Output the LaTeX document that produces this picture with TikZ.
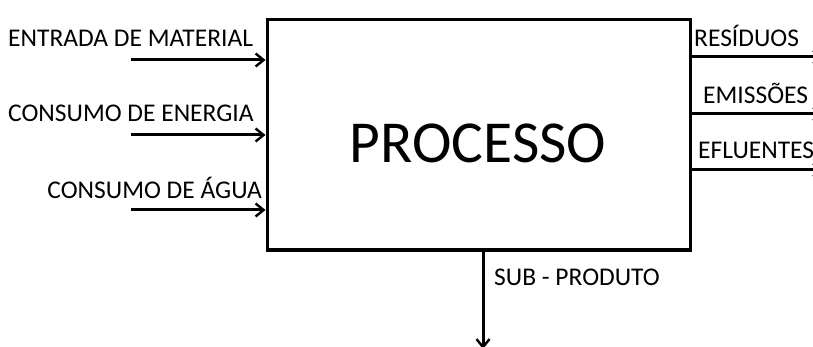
\documentclass[tikz,border=0pt]{standalone}
\usepackage{fontspec}
\setmainfont{Carlito}
\usetikzlibrary{arrows.meta}
\begin{document}
\begin{tikzpicture}[x=1pt,y=-1pt,
  lbl/.style={inner sep=0pt,font=\fontsize{25.5}{25.5}\selectfont},
  flow/.style={line width=3pt,-{Straight Barb[length=8pt,width=13pt,line width=2.4pt]}}]
\useasboundingbox (0,0) rectangle (813,347);
\clip (0,0) rectangle (813,347);
\node[draw,line width=3pt,minimum width=423pt,minimum height=230pt,inner sep=0pt] (proc) at (478.5,135) {};
\node[inner sep=0pt,font=\fontsize{59.5}{59.5}\selectfont] (ptxt) at (478,143) {PROCESSO};
% inputs
\coordinate (i1) at (131,60);
\coordinate (i2) at (131,135);
\coordinate (i3) at (131,210);
\draw[flow] (i1) -- (i1 -| proc.west);
\draw[flow] (i2) -- (i2 -| proc.west);
\draw[flow] (i3) -- (i3 -| proc.west);
\node[lbl,anchor=west] (l1) at (8,38) {ENTRADA DE MATERIAL};
\node[lbl,anchor=west] (l2) at (8,113) {CONSUMO DE ENERGIA};
\node[lbl,anchor=east] (l3) at (262,188) {CONSUMO DE ÁGUA};
% outputs
\coordinate (o1) at (823,57);
\coordinate (o2) at (823,114);
\coordinate (o3) at (823,170);
\draw[flow] (o1 -| proc.east) -- (o1);
\draw[flow] (o2 -| proc.east) -- (o2);
\draw[flow] (o3 -| proc.east) -- (o3);
\node[lbl,anchor=west] (r1) at (694,36) {RESÍDUOS};
\node[lbl,anchor=west] (r2) at (703,93) {EMISSÕES};
\node[lbl,anchor=west] (r3) at (698,150) {EFLUENTES};
% by-product
\coordinate (d1) at (483,349);
\draw[flow] (d1 |- proc.south) -- (d1);
\node[lbl,anchor=west] (s1) at (494,277) {SUB - PRODUTO};
\end{tikzpicture}
\end{document}
